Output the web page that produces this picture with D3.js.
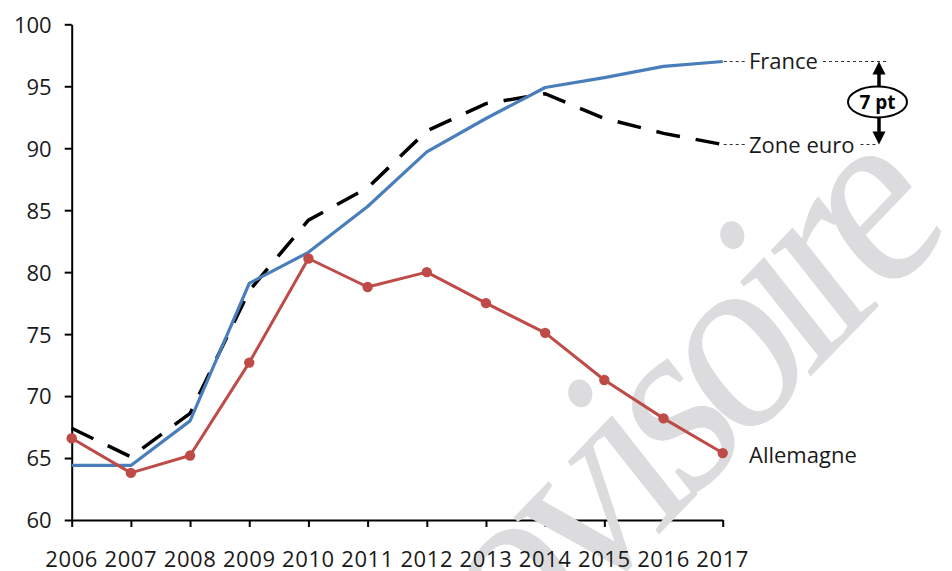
<!DOCTYPE html>
<html>
<head>
<meta charset="utf-8">
<script src="https://cdn.jsdelivr.net/npm/d3@7"></script>
<style>
  html, body { margin: 0; padding: 0; background: #ffffff; }
  svg { display: block; }
</style>
</head>
<body>
<div id="chart"></div>
<script>
// Années et séries (indice)
const years = [2006, 2007, 2008, 2009, 2010, 2011, 2012, 2013, 2014, 2015, 2016, 2017];
const france = [64.4, 64.4, 68.0, 79.1, 81.6, 85.3, 89.7, 92.4, 94.9, 95.7, 96.6, 97.0];
const zoneEuro = [67.4, 65.1, 68.6, 78.5, 84.2, 86.8, 91.4, 93.6, 94.4, 92.4, 91.2, 90.3];
const allemagne = [66.6, 63.8, 65.2, 72.7, 81.1, 78.8, 80.0, 77.5, 75.1, 71.3, 68.2, 65.4];
const yTicks = [60, 65, 70, 75, 80, 85, 90, 95, 100];
const seriesNames = ["France", "Zone euro", "Allemagne"];
const gapLabel = "7 pt";
const watermark = "Provisoire";

const W = 952, H = 571;
const font = "'Open Sans', 'Liberation Sans', sans-serif";
const ink = "#1a1a1a";

const svg = d3.select("#chart").append("svg")
  .attr("width", W).attr("height", H)
  .attr("viewBox", `0 0 ${W} ${H}`);

const x = d3.scaleLinear().domain([2006, 2017]).range([71.7, 722.7]);
const y = d3.scaleLinear().domain([60, 100]).range([520, 24.3]);

const axisLayer = svg.append("g");
const markLayer = svg.append("g");   // filigrane
const topLayer = svg.append("g");

// Axe vertical
const gy = axisLayer.append("g")
  .attr("transform", `translate(${x(2006)},0)`)
  .call(d3.axisLeft(y).tickValues(yTicks).tickSize(7).tickSizeOuter(0).tickPadding(13));
gy.select(".domain").attr("stroke", "#000").attr("stroke-width", 2);
gy.selectAll(".tick line").attr("stroke", "#000").attr("stroke-width", 2);
gy.selectAll(".tick text")
  .attr("font-family", font).attr("font-size", 22).attr("fill", ink)
  .attr("dy", "0.36em");

// Axe horizontal
const gx = axisLayer.append("g")
  .attr("transform", `translate(0,${y(60)})`)
  .call(d3.axisBottom(x).tickValues(years).tickFormat(d3.format("d")).tickSize(7).tickSizeOuter(0));
gx.select(".domain").attr("stroke", "#000").attr("stroke-width", 2);
gx.selectAll(".tick line").attr("stroke", "#000").attr("stroke-width", 2);
gx.selectAll(".tick text").remove();

// Libellés des années, au-dessus du filigrane
topLayer.append("g").selectAll("text")
  .data(years)
  .join("text")
  .attr("x", d => x(d))
  .attr("y", y(60) + 46.5)
  .attr("text-anchor", "middle")
  .attr("font-family", font).attr("font-size", 22).attr("fill", ink)
  .attr("letter-spacing", "0.6px")
  .text(d => d);

// Filigrane : texte incliné, resserré et légèrement déformé
const wmA = [1.302, -1.354];   // vecteur de la ligne de base
const wmB = [1.27, 1.606];     // vecteur vertical du glyphe (vers le bas)
const wmT = [398.6, 805.1];
markLayer.append("text")
  .attr("transform", `matrix(${wmA[0]},${wmA[1]},${wmB[0]},${wmB[1]},${wmT[0]},${wmT[1]})`)
  .attr("font-family", "'Liberation Serif', 'DejaVu Serif', serif")
  .attr("font-size", 125)
  .attr("letter-spacing", -9.7)
  .attr("fill", "#dcdcde")
  .text(watermark);

const line = d3.line()
  .x((d, i) => x(years[i]))
  .y(d => y(d));

// Zone euro : tirets noirs
topLayer.append("path")
  .datum(zoneEuro)
  .attr("d", line)
  .attr("fill", "none")
  .attr("stroke", "#000")
  .attr("stroke-width", 3.5)
  .attr("stroke-dasharray", "24,16");

// France : trait bleu
topLayer.append("path")
  .datum(france)
  .attr("d", line)
  .attr("fill", "none")
  .attr("stroke", "#4a7ebb")
  .attr("stroke-width", 3.2)
  .attr("stroke-linejoin", "round");

// Allemagne : trait rouge avec marqueurs
topLayer.append("path")
  .datum(allemagne)
  .attr("d", line)
  .attr("fill", "none")
  .attr("stroke", "#be4b48")
  .attr("stroke-width", 3)
  .attr("stroke-linejoin", "round");
topLayer.append("g").selectAll("circle")
  .data(allemagne)
  .join("circle")
  .attr("cx", (d, i) => x(years[i]))
  .attr("cy", d => y(d))
  .attr("r", 5.2)
  .attr("fill", "#be4b48");

// Étiquettes des séries
const last = years.length - 1;
const xEnd = x(years[last]);
const labelX = 749;
const leader = (x1, x2, yy) => topLayer.append("line")
  .attr("x1", x1).attr("x2", x2).attr("y1", yy).attr("y2", yy)
  .attr("stroke", "#333").attr("stroke-width", 1.2)
  .attr("stroke-dasharray", "3,3");

const yFr = y(france[last]);
const yZe = y(zoneEuro[last]);
const yDe = y(allemagne[last]);

leader(xEnd + 1, labelX - 4, yFr);
leader(xEnd + 1, labelX - 4, yZe);

const tFr = topLayer.append("text")
  .attr("x", labelX).attr("y", yFr + 8)
  .attr("font-family", font).attr("font-size", 22).attr("fill", ink)
  .text(seriesNames[0]);
const tZe = topLayer.append("text")
  .attr("x", labelX).attr("y", yZe + 8)
  .attr("font-family", font).attr("font-size", 22).attr("fill", ink)
  .text(seriesNames[1]);
topLayer.append("text")
  .attr("x", labelX).attr("y", yDe + 9.5)
  .attr("font-family", font).attr("font-size", 22).attr("fill", ink)
  .text(seriesNames[2]);

// Écart France / zone euro en 2017
const arrowX = 879;
const frEnd = tFr.node().getComputedTextLength();
const zeEnd = tZe.node().getComputedTextLength();
leader(labelX + frEnd + 5, arrowX + 8, yFr);
leader(labelX + zeEnd + 6, arrowX - 2, yZe);

const headH = 13, headW = 6.5;
const ellCy = (yFr + yZe) / 2 - 1;
const ellRx = 29.5, ellRy = 15.5;

topLayer.append("line")
  .attr("x1", arrowX).attr("x2", arrowX)
  .attr("y1", yFr + headH - 1).attr("y2", ellCy - ellRy)
  .attr("stroke", "#000").attr("stroke-width", 3.5);
topLayer.append("line")
  .attr("x1", arrowX).attr("x2", arrowX)
  .attr("y1", ellCy + ellRy).attr("y2", yZe - headH + 1)
  .attr("stroke", "#000").attr("stroke-width", 3.5);
topLayer.append("path")
  .attr("d", `M${arrowX},${yFr} L${arrowX + headW},${yFr + headH} L${arrowX - headW},${yFr + headH} Z`)
  .attr("fill", "#000");
topLayer.append("path")
  .attr("d", `M${arrowX},${yZe} L${arrowX + headW},${yZe - headH} L${arrowX - headW},${yZe - headH} Z`)
  .attr("fill", "#000");

topLayer.append("ellipse")
  .attr("cx", arrowX - 1.5).attr("cy", ellCy)
  .attr("rx", ellRx).attr("ry", ellRy)
  .attr("fill", "#fff").attr("stroke", "#000").attr("stroke-width", 2);
topLayer.append("text")
  .attr("x", arrowX - 1.5).attr("y", ellCy + 7)
  .attr("text-anchor", "middle")
  .attr("font-family", font).attr("font-size", 19).attr("font-weight", "bold")
  .attr("fill", "#000")
  .text(gapLabel);
</script>
</body>
</html>
